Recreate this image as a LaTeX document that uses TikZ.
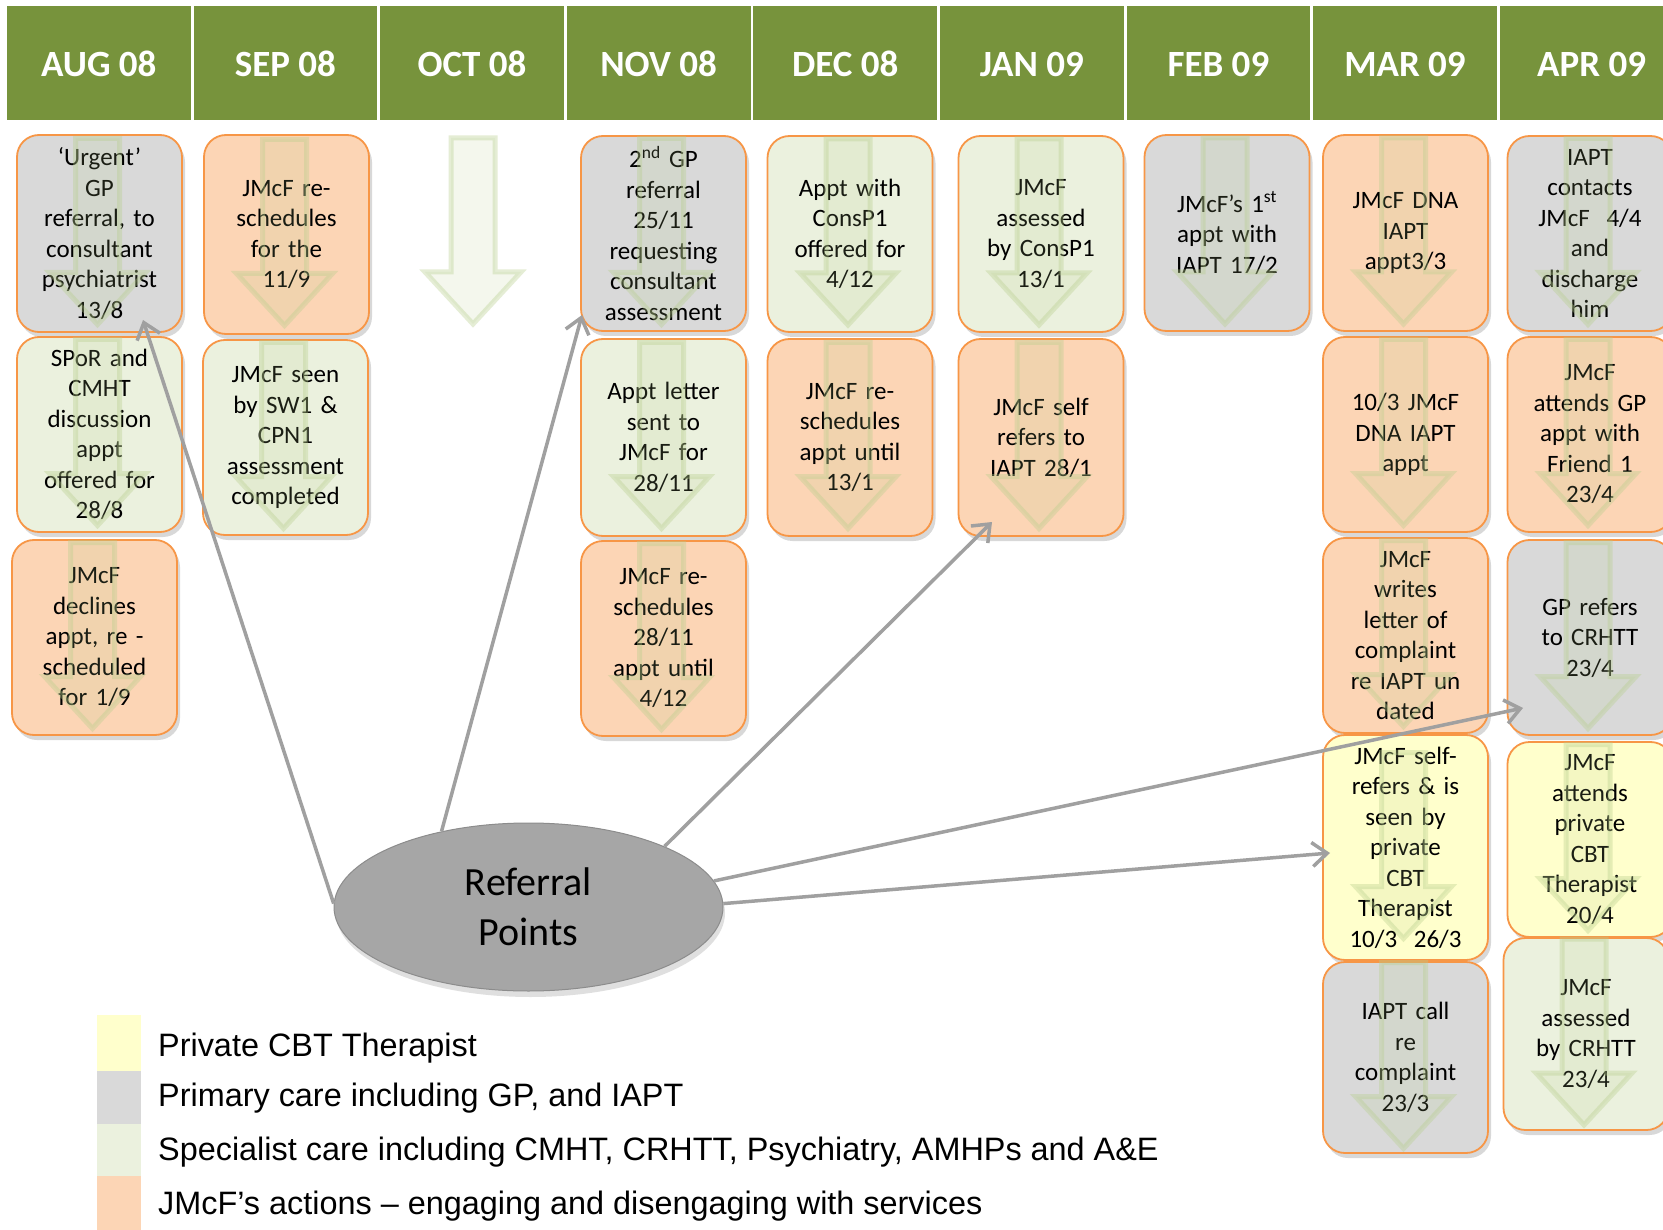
\documentclass[tikz,border=0pt]{standalone}
\usepackage{fontspec}
\setmainfont{Carlito}
\newfontfamily\legendfont{Liberation Sans}
\usetikzlibrary{shapes.geometric,shadows,arrows.meta}

\definecolor{headgreen}{HTML}{77933C}
\definecolor{gpgrey}{HTML}{D9D9D9}
\definecolor{specgreen}{HTML}{EBF1DE}
\definecolor{jmcforange}{HTML}{FCD5B5}
\definecolor{cbtyellow}{HTML}{FFFFCC}
\definecolor{rimorange}{HTML}{F79646}
\definecolor{markgreen}{HTML}{B7CE8C}
\definecolor{refgrey}{HTML}{A6A6A6}
\definecolor{linegrey}{HTML}{A0A0A0}

\begin{document}
\begin{tikzpicture}
[x=1pt,y=-1pt,
  monthhead/.style={shape=rectangle,fill=headgreen,text=white,minimum width=183.8pt,
    minimum height=114pt,inner sep=0pt,text height=28pt,text depth=0pt,
    font=\fontsize{37}{40}\selectfont\bfseries},%
  eventbox/.style={shape=rectangle,rounded corners=22pt,draw=rimorange,line width=1.8pt,
    minimum width=165pt,inner sep=1pt,text width=163pt,align=center,
    font=\fontsize{25}{30.5}\selectfont,
    drop shadow={shadow xshift=3pt,shadow yshift=-5pt,opacity=.3}},%
  boxarrow/.pic={\draw[fill=markgreen,fill opacity=.15,draw=markgreen,draw opacity=.36,
    line width=5pt,line join=miter]
    (-22,-93) -- (22,-93) -- (22,41) -- (48,41) -- (0,93) -- (-48,41) -- (-22,41) -- cycle;},%
  refnode/.style={shape=ellipse,fill=refgrey,draw=black!45,line width=1pt,
    minimum width=389pt,minimum height=168pt,inner sep=0pt,align=center,
    font=\fontsize{40}{50}\selectfont,
    drop shadow={shadow xshift=2pt,shadow yshift=-6pt,opacity=.25}},%
  referline/.style={draw=linegrey,line width=3.5pt,-{Straight Barb[length=15pt,width=24pt]}},%
  legendtext/.style={anchor=base west,inner sep=0pt,font=\legendfont\fontsize{32.4}{36}\selectfont}]
\useasboundingbox (0,0) rectangle (1663,1230);
\clip (0,0) rectangle (1663,1230);
\fill[white] (0,0) rectangle (1663,1230);
%% month headers
\foreach \mon/\tag [count=\i from 0] in {AUG 08/aug, SEP 08/sep, OCT 08/oct,
  NOV 08/nov, DEC 08/dec, JAN 09/jan, FEB 09/feb, MAR 09/mar, APR 09/apr} {
  \node[monthhead] (hd\tag) at (98.8+186.6*\i,63) {\mon};
}
%% event boxes
\foreach \name/\x/\y/\h/\kcol/\txt in {
  aug1/99.5/233.5/197/gpgrey/{‘Urgent’\\GP\\referral, to\\consultant\\psychiatrist\\13/8},
  aug2/99.5/434.5/195/specgreen/{SPoR and\\CMHT\\discussion\\appt\\offered for\\28/8},
  aug3/94.5/637.5/195/jmcforange/{JMcF\\declines\\appt, re -\\scheduled\\for 1/9},
  sep1/286.5/234.5/199/jmcforange/{JMcF re-\\schedules\\for the\\11/9},
  sep2/285.5/437.5/195/specgreen/{JMcF seen\\by SW1 \&\\CPN1\\assessment\\completed},
  nov1/663.5/233.5/195/gpgrey/{2\textsuperscript{nd} GP\\referral\\25/11\\requesting\\consultant\\assessment},
  nov2/663.5/437.5/197/specgreen/{Appt letter\\sent to\\JMcF for\\28/11},
  nov3/663.5/638.5/195/jmcforange/{JMcF re-\\schedules\\28/11\\appt until\\4/12},
  dec1/850/234/196/specgreen/{Appt with\\ConsP1\\offered for\\4/12},
  dec2/850/437.5/197/jmcforange/{JMcF re-\\schedules\\appt until\\13/1},
  jan1/1041/234/196/specgreen/{JMcF\\assessed\\by ConsP1\\13/1},
  jan2/1041/437.5/197/jmcforange/{JMcF self\\refers to\\IAPT 28/1},
  feb1/1227/233/196/gpgrey/{JMcF’s 1\textsuperscript{st}\\appt with\\IAPT 17/2},
  mar1/1405.5/233/196/jmcforange/{JMcF DNA\\IAPT\\appt3/3},
  mar2/1405.5/434.5/195/jmcforange/{10/3 JMcF\\DNA IAPT\\appt},
  mar3/1405.5/635.5/195/jmcforange/{JMcF\\writes\\letter of\\complaint\\re IAPT un\\dated},
  mar4/1405.5/847.5/225/cbtyellow/{JMcF self-\\refers \& is\\seen by\\private\\CBT\\Therapist\\10/3~~26/3},
  mar5/1405.5/1057.5/191/gpgrey/{IAPT call\\re\\complaint\\23/3},
  apr1/1590/233.5/195/gpgrey/{IAPT\\contacts\\JMcF~~4/4\\and\\discharge\\him},
  apr2/1590/434.5/195/jmcforange/{JMcF\\attends GP\\appt with\\Friend 1\\23/4},
  apr3/1590/637.5/195/gpgrey/{GP refers\\to CRHTT\\23/4},
  apr4/1590/839.5/195/cbtyellow/{JMcF\\attends\\private\\CBT\\Therapist\\20/4},
  apr5/1586/1034/192/specgreen/{JMcF\\assessed\\by CRHTT\\23/4}} {
  \node[eventbox,fill=\kcol,minimum height=\h pt] (\name) at (\x,\y) {\txt};
}
%% faint down arrows
\foreach \b in {aug1,aug2,aug3,sep1,sep2,nov1,nov2,nov3,dec1,dec2,jan1,jan2,
  feb1,mar1,mar2,mar3,mar4,mar5,apr1,apr2,apr3,apr4,apr5} {
  \path (\b.center) ++(-2,-2) pic {boxarrow};
}
\pic at (473,231) {boxarrow};
%% referral points and its connectors
\node[refnode] (refpts) at (528.5,907) {Referral\\Points};
\coordinate (tipaug) at (143,320);
\coordinate (tipnov) at (582,315);
\coordinate (tipjan) at (992,522);
\coordinate (tipapr) at (1523,708);
\coordinate (tipmar) at (1330,853);
\foreach \ang/\tip in {179/tipaug, 139/tipnov, 24/tipjan, 8.6/tipapr, 1.2/tipmar} {
  \draw[referline] (refpts.\ang) -- (\tip);
}
%% legend
\foreach \kcol/\ytop/\ybot/\ybase/\txt in {
  cbtyellow/1015/1071/1056/{Private CBT Therapist},
  gpgrey/1071/1124/1106/{Primary care including GP, and IAPT},
  specgreen/1124/1176/1160/{Specialist care including CMHT, CRHTT, Psychiatry, AMHPs and A\&E},
  jmcforange/1176/1230/1214.5/{JMcF’s actions – engaging and disengaging with services}} {
  \fill[fill=\kcol] (97,\ytop) rectangle (141,\ybot);
  \node[legendtext] (leg\kcol) at (158,\ybase) {\txt};
}
\end{tikzpicture}
\end{document}
